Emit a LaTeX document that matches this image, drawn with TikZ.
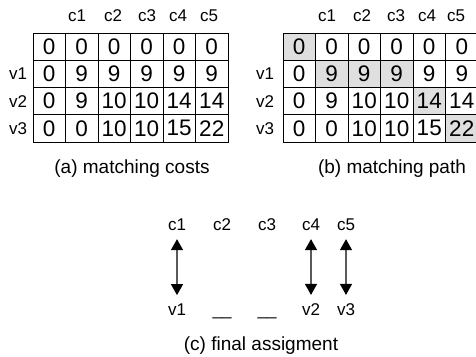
\documentclass[tikz,border=0pt]{standalone}
\usepackage{fontspec}
\setmainfont{Liberation Sans}
\usetikzlibrary{arrows.meta,positioning}
\tikzset{
  cell/.style={draw, line width=0.8pt},
  hit/.style={fill=gray!25},
  num/.style={font=\fontsize{22.5}{22.5}\selectfont, inner sep=0pt},
  lab/.style={font=\fontsize{17}{17}\selectfont, inner sep=1pt},
  subcap/.style={font=\fontsize{19}{19}\selectfont},
  pair/.style={arrows={Triangle[width=12pt,length=11pt,color=black]-Triangle[width=12pt,length=11pt,color=black]},
    draw=gray!70!black, line width=1.2pt, shorten <=7pt, shorten >=7pt}
}

\begin{document}
\begin{tikzpicture}[x=1pt,y=-1pt]
\useasboundingbox (0,0) rectangle (476,356);

% (a) matching costs
\foreach \row [count=\r from 0] in {{0,0,0,0,0,0},{0,9,9,9,9,9},{0,9,10,10,14,14},{0,0,10,10,15,22}}{
  \foreach \v [count=\c from 0] in \row{
    \draw[cell] (33+32.5*\c,33+27.25*\r) rectangle ++(32.5,27.25);
    \node[num] (a\r\c) at (49.25+32.5*\c,46.6+27.25*\r) {\v};
  }
}
\foreach \x [count=\i] in {77,113,147,178,209}{
  \node[lab] (ac\i) at (\x,16) {c\i};
}
\foreach \i in {1,2,3}{
  \node[lab] (av\i) at (18,46.6+27.25*\i) {v\i};
}
\node[subcap] (capa) at (132,169) {(a) matching costs};

% (b) matching path
\foreach \c/\r in {0/0,1/1,2/1,3/1,4/2,5/3}{
  \fill[hit] (283+32.5*\c,33+27.25*\r) rectangle ++(32.5,27.25);
}
\foreach \row [count=\r from 0] in {{0,0,0,0,0,0},{0,9,9,9,9,9},{0,9,10,10,14,14},{0,0,10,10,15,22}}{
  \foreach \v [count=\c from 0] in \row{
    \draw[cell] (283+32.5*\c,33+27.25*\r) rectangle ++(32.5,27.25);
    \node[num] (b\r\c) at (299.25+32.5*\c,46.6+27.25*\r) {\v};
  }
}
\foreach \x [count=\i] in {327,362,396,427,456}{
  \node[lab] (bc\i) at (\x,16) {c\i};
}
\foreach \i in {1,2,3}{
  \node[lab] (bv\i) at (265,46.6+27.25*\i) {v\i};
}
\node[subcap] (capb) at (392,169) {(b) matching path};

% (c) final assignment
\node[lab] (c1) at (177,225) {c1};
\node[lab] (c2) at (222,225) {c2};
\node[lab] (c3) at (267,225) {c3};
\node[lab] (c4) at (311,225) {c4};
\node[lab] (c5) at (346,225) {c5};
\node[lab, anchor=base] (v1) at (177,315) {v1};
\node[lab, anchor=base] (n2) at (222,315) {\char"5F\char"5F};
\node[lab, anchor=base] (n3) at (267,315) {\char"5F\char"5F};
\node[lab, anchor=base] (v2) at (311,315) {v2};
\node[lab, anchor=base] (v3) at (346,315) {v3};
\draw[pair] (c1) -- (v1);
\draw[pair] (c4) -- (v2);
\draw[pair] (c5) -- (v3);
\node[subcap] (capc) at (261,346) {(c) final assigment};
\end{tikzpicture}
\end{document}
